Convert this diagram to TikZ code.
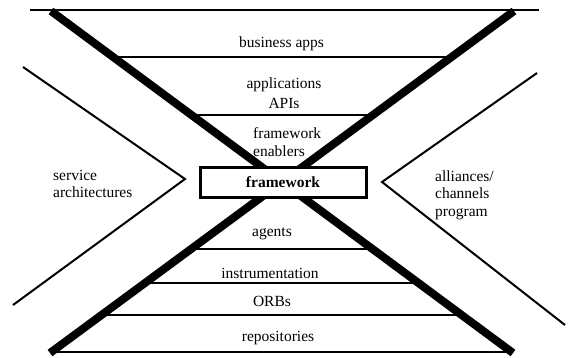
\documentclass[tikz,border=0pt]{standalone}
\usepackage{fontspec}
\setmainfont{Liberation Serif}
\begin{document}
\begin{tikzpicture}[x=1pt,y=-1pt,
  lbl/.style={inner sep=0pt,font=\fontsize{15.5}{17.5}\selectfont},
  layerline/.style={line width=1.2pt},
  xbar/.style={line width=8pt},
  chevron/.style={line width=2pt,line join=miter},
  corebox/.style={draw,line width=3pt,fill=white,minimum width=166pt,minimum height=30pt,inner sep=0pt}]
\useasboundingbox (0,0) rectangle (572,357);

% ends of the two crossing bars
\coordinate (tl) at (51,11);
\coordinate (br) at (513,353);
\coordinate (tr) at (514,11);
\coordinate (bl) at (50,353);

% layer separators
\coordinate (t1) at (30,10);   \coordinate (t2) at (539,10);
\coordinate (a1) at (113,57);  \coordinate (a2) at (452,57);
\coordinate (b1) at (192,115); \coordinate (b2) at (373,115);
\coordinate (c1) at (191,249); \coordinate (c2) at (372,249);
\coordinate (d1) at (144,283); \coordinate (d2) at (418,283);
\coordinate (e1) at (100,315); \coordinate (e2) at (462,315);
\coordinate (f1) at (50,352);  \coordinate (f2) at (513,352);

\draw[layerline] (t1) -- (t2);
\draw[layerline] (a1) -- (a2);
\draw[layerline] (b1) -- (b2);
\draw[layerline] (c1) -- (c2);
\draw[layerline] (d1) -- (d2);
\draw[layerline] (e1) -- (e2);
\draw[layerline] (f1) -- (f2);

% crossing bars
\draw[xbar] (tl) -- (br);
\draw[xbar] (tr) -- (bl);

% side chevrons
\coordinate (lt) at (23,67);  \coordinate (lv) at (185,179); \coordinate (lb) at (13,305);
\coordinate (rt) at (537,73); \coordinate (rv) at (382,182); \coordinate (rb) at (565,325);
\draw[chevron] (lt) -- (lv) -- (lb);
\draw[chevron] (rt) -- (rv) -- (rb);

% central box
\node[corebox,font=\fontsize{15.5}{17.5}\selectfont\bfseries] (core) at (283,182) {framework};

% layer labels
\node[lbl] (biz) at (281.5,44) {business apps};
\node[lbl,align=center] (apps) at (284,93) {applications\\[2pt]APIs};
\node[lbl,align=left,anchor=west] (enab) at (253,142) {framework\\enablers};
\node[lbl] (agents) at (272,234) {agents};
\node[lbl] (instr) at (270,273) {instrumentation};
\node[lbl] (orbs) at (272,301) {ORBs};
\node[lbl] (repo) at (278,338) {repositories};

% side labels
\node[lbl,align=left,anchor=west] (svc) at (53,184) {service\\architectures};
\node[lbl,align=left,anchor=west] (ally) at (435,195) {alliances/\\channels\\program};
\end{tikzpicture}
\end{document}
